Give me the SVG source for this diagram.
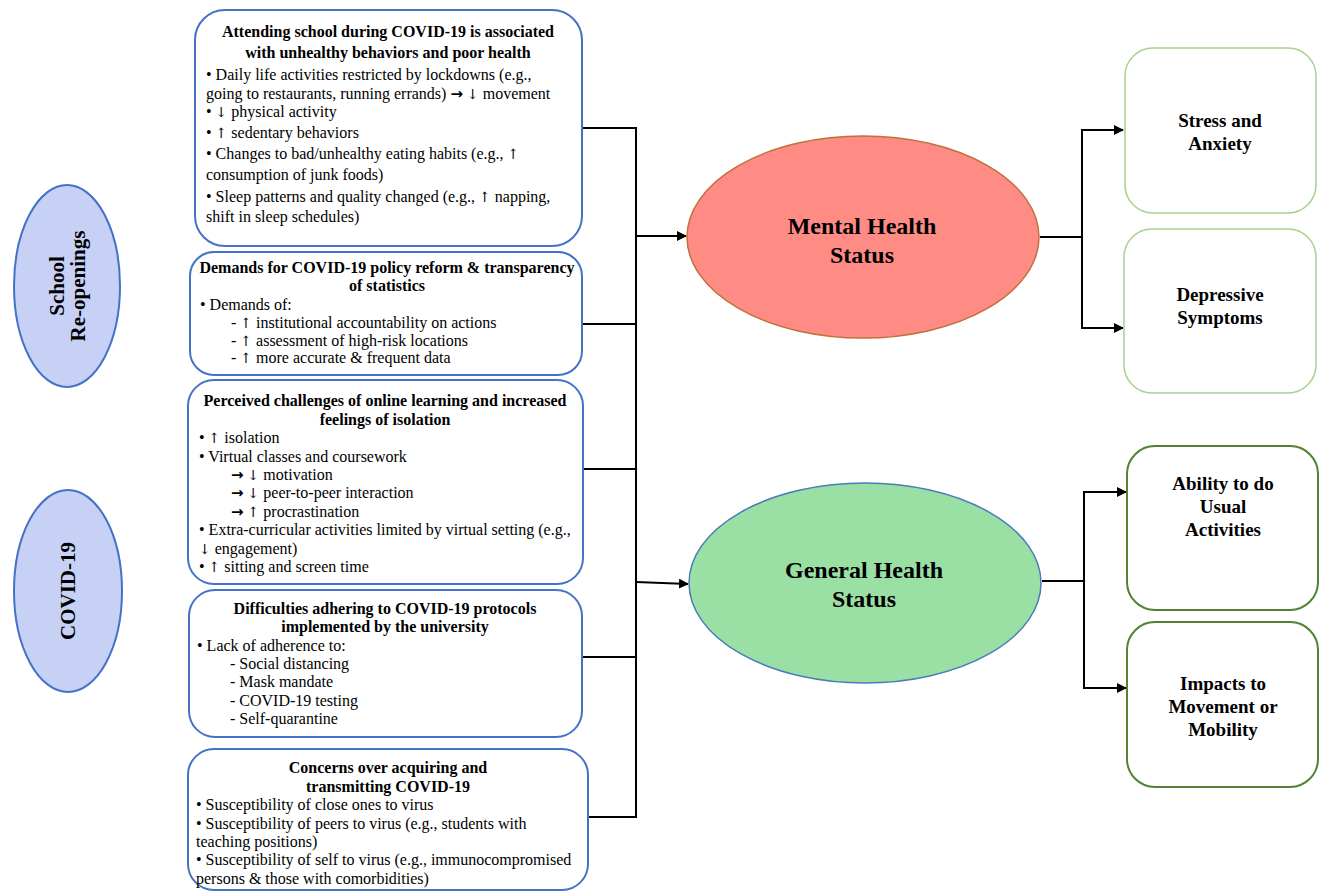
<svg xmlns="http://www.w3.org/2000/svg" width="1324" height="892" viewBox="0 0 1324 892">
<style>
.t{font-family:"Liberation Serif","Times New Roman",serif;font-size:16px;fill:#000}
.b{font-weight:bold}
.m{text-anchor:middle}
.a{font-family:"DejaVu Serif",serif;font-size:14px;fill:#000}
.r{font-family:"DejaVu Sans",sans-serif;font-weight:bold;font-size:15px;fill:#000}
.box{fill:#fff;stroke:#4472c4;stroke-width:2}
.lbl{font-family:"Liberation Serif","Times New Roman",serif;font-weight:bold;fill:#000;text-anchor:middle}
.con{fill:none;stroke:#000;stroke-width:2}
</style>
<defs>
<marker id="ah" markerWidth="10" markerHeight="10" refX="9" refY="5" orient="auto" markerUnits="userSpaceOnUse">
<path d="M0,0 L10,5 L0,10 z" fill="#000"/>
</marker>
</defs>

<g id="connectors">
<path class="con" d="M582,128 H636 V817 H588"/>
<path class="con" d="M582,324 H636"/>
<path class="con" d="M582,469 H636"/>
<path class="con" d="M582,657 H636"/>
<path class="con" d="M636,236 H686" marker-end="url(#ah)"/>
<path class="con" d="M636,582 L688,584" marker-end="url(#ah)"/>
<path class="con" d="M1040,237 H1082 V130 H1123" marker-end="url(#ah)"/>
<path class="con" d="M1082,237 V328 H1123" marker-end="url(#ah)"/>
<path class="con" d="M1042,581 H1084 V492 H1126" marker-end="url(#ah)"/>
<path class="con" d="M1084,581 V688 H1126" marker-end="url(#ah)"/>
</g>

<g id="school-reopenings">
<ellipse cx="67" cy="286" rx="53" ry="101" fill="#c7d1f6" stroke="#4472c4" stroke-width="2"/>
<g transform="translate(67,286) rotate(-90)">
<text class="lbl" font-size="21" x="0" y="-3">School</text>
<text class="lbl" font-size="21" x="0" y="18">Re-openings</text>
</g>
</g>

<g id="covid19">
<ellipse cx="68" cy="591" rx="54" ry="101" fill="#c7d1f6" stroke="#4472c4" stroke-width="2"/>
<g transform="translate(68,591) rotate(-90)">
<text class="lbl" font-size="21" x="0" y="7">COVID-19</text>
</g>
</g>

<g id="box-attending">
<rect class="box" x="195" y="10" width="387" height="236" rx="30"/>
<text class="t b m" x="388" y="37">Attending school during COVID-19 is associated</text>
<text class="t b m" x="388" y="58">with unhealthy behaviors and poor health</text>
<text class="t" x="206" y="80">• Daily life activities restricted by lockdowns (e.g.,</text>
<text class="t" x="206" y="99">going to restaurants, running errands) <tspan class="r">→</tspan> <tspan class="a">↓</tspan> movement</text>
<text class="t" x="206" y="117">• <tspan class="a">↓</tspan> physical activity</text>
<text class="t" x="206" y="138">• <tspan class="a">↑</tspan> sedentary behaviors</text>
<text class="t" x="206" y="159">• Changes to bad/unhealthy eating habits (e.g., <tspan class="a">↑</tspan></text>
<text class="t" x="206" y="180">consumption of junk foods)</text>
<text class="t" x="206" y="202">• Sleep patterns and quality changed (e.g., <tspan class="a">↑</tspan> napping,</text>
<text class="t" x="206" y="222">shift in sleep schedules)</text>
</g>

<g id="box-demands">
<rect class="box" x="190" y="252" width="392" height="123" rx="24"/>
<text class="t b m" x="387" y="273">Demands for COVID-19 policy reform &amp; transparency</text>
<text class="t b m" x="387" y="291">of statistics</text>
<text class="t" x="200" y="310">• Demands of:</text>
<text class="t" x="231" y="328">- <tspan class="a">↑</tspan> institutional accountability on actions</text>
<text class="t" x="231" y="346">- <tspan class="a">↑</tspan> assessment of high-risk locations</text>
<text class="t" x="231" y="363">- <tspan class="a">↑</tspan> more accurate &amp; frequent data</text>
</g>

<g id="box-online">
<rect class="box" x="188" y="380" width="395" height="204" rx="26"/>
<text class="t b m" x="385" y="406">Perceived challenges of online learning and increased</text>
<text class="t b m" x="385" y="425">feelings of isolation</text>
<text class="t" x="199" y="443">• <tspan class="a">↑</tspan> isolation</text>
<text class="t" x="199" y="462">• Virtual classes and coursework</text>
<text class="t" x="231" y="480"><tspan class="r">→</tspan> <tspan class="a">↓</tspan> motivation</text>
<text class="t" x="231" y="498"><tspan class="r">→</tspan> <tspan class="a">↓</tspan> peer-to-peer interaction</text>
<text class="t" x="231" y="517"><tspan class="r">→</tspan> <tspan class="a">↑</tspan> procrastination</text>
<text class="t" x="199" y="535">• Extra-curricular activities limited by virtual setting (e.g.,</text>
<text class="t" x="199" y="554"><tspan class="a">↓</tspan> engagement)</text>
<text class="t" x="199" y="572">• <tspan class="a">↑</tspan> sitting and screen time</text>
</g>

<g id="box-protocols">
<rect class="box" x="189" y="590" width="393" height="147" rx="26"/>
<text class="t b m" x="385" y="614">Difficulties adhering to COVID-19 protocols</text>
<text class="t b m" x="385" y="632">implemented by the university</text>
<text class="t" x="197" y="651">• Lack of adherence to:</text>
<text class="t" x="230" y="669">- Social distancing</text>
<text class="t" x="230" y="687">- Mask mandate</text>
<text class="t" x="230" y="706">- COVID-19 testing</text>
<text class="t" x="230" y="724">- Self-quarantine</text>
</g>

<g id="box-concerns">
<rect class="box" x="188" y="749" width="400" height="141" rx="26"/>
<text class="t b m" x="388" y="773">Concerns over acquiring and</text>
<text class="t b m" x="388" y="792">transmitting COVID-19</text>
<text class="t" x="196" y="810">• Susceptibility of close ones to virus</text>
<text class="t" x="196" y="829">• Susceptibility of peers to virus (e.g., students with</text>
<text class="t" x="196" y="847">teaching positions)</text>
<text class="t" x="196" y="865">• Susceptibility of self to virus (e.g., immunocompromised</text>
<text class="t" x="196" y="884">persons &amp; those with comorbidities)</text>
</g>

<g id="mental-health">
<ellipse cx="863" cy="237" rx="176" ry="101" fill="#ff8b85" stroke="#c0703a" stroke-width="1.5"/>
<text class="lbl" font-size="24" x="862" y="234">Mental Health</text>
<text class="lbl" font-size="24" x="862" y="263">Status</text>
</g>

<g id="general-health">
<ellipse cx="865" cy="583" rx="176" ry="100" fill="#9adfa4" stroke="#4a7bbd" stroke-width="1.5"/>
<text class="lbl" font-size="24" x="864" y="578">General Health</text>
<text class="lbl" font-size="24" x="864" y="607">Status</text>
</g>

<g id="stress-anxiety">
<rect x="1125" y="48" width="191" height="165" rx="28" fill="#fff" stroke="#a9d18e" stroke-width="1.5"/>
<text class="lbl" font-size="19" x="1220" y="127">Stress and</text>
<text class="lbl" font-size="19" x="1220" y="150">Anxiety</text>
</g>

<g id="depressive-symptoms">
<rect x="1124" y="229" width="192" height="164" rx="28" fill="#fff" stroke="#a9d18e" stroke-width="1.5"/>
<text class="lbl" font-size="19" x="1220" y="301">Depressive</text>
<text class="lbl" font-size="19" x="1220" y="324">Symptoms</text>
</g>

<g id="usual-activities">
<rect x="1127" y="446" width="191" height="164" rx="28" fill="#fff" stroke="#548235" stroke-width="2"/>
<text class="lbl" font-size="19" x="1223" y="490">Ability to do</text>
<text class="lbl" font-size="19" x="1223" y="513">Usual</text>
<text class="lbl" font-size="19" x="1223" y="536">Activities</text>
</g>

<g id="movement-mobility">
<rect x="1127" y="622" width="191" height="165" rx="28" fill="#fff" stroke="#548235" stroke-width="2"/>
<text class="lbl" font-size="19" x="1223" y="690">Impacts to</text>
<text class="lbl" font-size="19" x="1223" y="713">Movement or</text>
<text class="lbl" font-size="19" x="1223" y="736">Mobility</text>
</g>
</svg>
